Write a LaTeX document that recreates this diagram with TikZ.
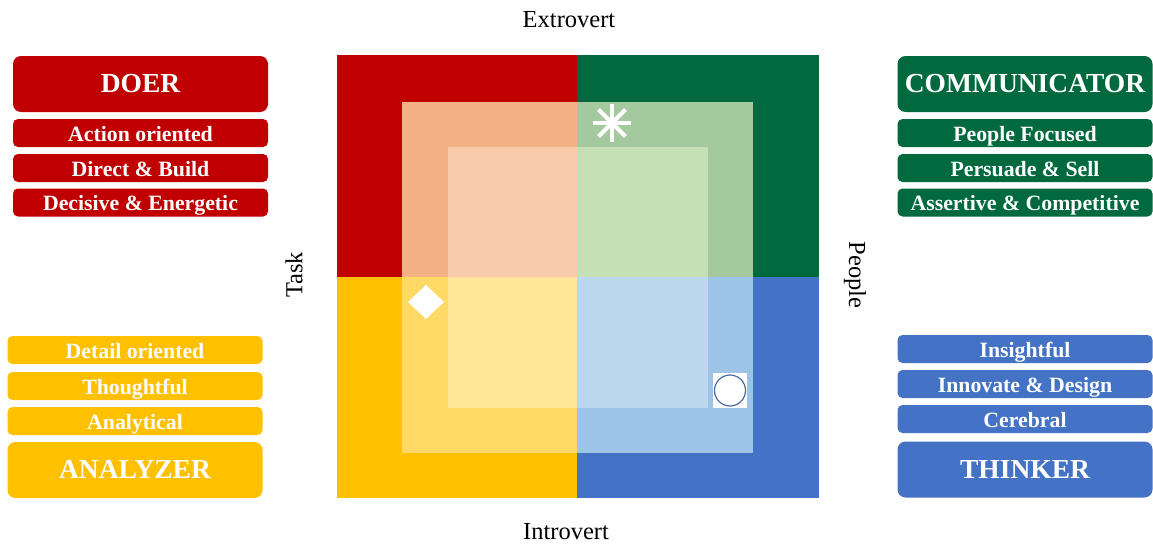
\documentclass[tikz,border=0pt]{standalone}
\usepackage{fontspec}
\setmainfont{Liberation Serif}

\definecolor{doerred}{HTML}{C00000}
\definecolor{commgreen}{HTML}{00693E}
\definecolor{analyellow}{HTML}{FFC000}
\definecolor{thinkblue}{HTML}{4472C4}
\definecolor{midred}{HTML}{F4B183}
\definecolor{midgreen}{HTML}{A5C99F}
\definecolor{midyellow}{HTML}{FFD966}
\definecolor{midblue}{HTML}{9DC3E6}
\definecolor{inred}{HTML}{F8CBAD}
\definecolor{ingreen}{HTML}{C5E0B4}
\definecolor{inyellow}{HTML}{FFE699}
\definecolor{inblue}{HTML}{BDD7EE}
\definecolor{ringblue}{HTML}{4A6AA5}

\tikzset{
  title/.style={rounded corners=8pt, text=white, inner sep=0pt,
    font=\bfseries\fontsize{27.5}{30}\selectfont,
    text height=19pt, text depth=2pt,
    minimum width=255pt, minimum height=56pt},
  trait/.style={rounded corners=5pt, text=white, inner sep=0pt,
    font=\bfseries\fontsize{21.8}{24}\selectfont,
    text height=17pt, text depth=1pt,
    minimum width=255pt, minimum height=28pt},
  axis/.style={font=\fontsize{24.5}{28}\selectfont, inner sep=0pt},
}

\begin{document}
\begin{tikzpicture}[x=1pt, y=-1pt]
    \useasboundingbox (0,0) rectangle (1153,546);

    % outer quadrants
    \fill[doerred]    (337,55)  rectangle (577,277);
    \fill[commgreen]  (577,55)  rectangle (819,277);
    \fill[analyellow] (337,277) rectangle (577,498);
    \fill[thinkblue]  (577,277) rectangle (819,498);

    % middle ring
    \fill[midred]    (402,102) rectangle (577,277);
    \fill[midgreen]  (577,102) rectangle (753,277);
    \fill[midyellow] (402,277) rectangle (577,453);
    \fill[midblue]   (577,277) rectangle (753,453);

    % inner square
    \fill[inred]    (448,147) rectangle (577,277);
    \fill[ingreen]  (577,147) rectangle (708,277);
    \fill[inyellow] (448,277) rectangle (577,408);
    \fill[inblue]   (577,277) rectangle (708,408);

    % markers
    \coordinate (star) at (612,123);
    \foreach \a in {0,45,...,315}
      \draw[white, line width=4pt] (star) -- ++(\a:19);
    \fill[white] (408,302) -- (426,285) -- (444,302) -- (426,319) -- cycle;
    \fill[white] (713,373) rectangle (747,408);
    \draw[ringblue, line width=1.2pt] (730,390.5) circle (15.5);

    % axis labels
    \node[axis] (extro) at (569,20) {Extrovert};
    \node[axis] (intro) at (566,532) {Introvert};
    \node[axis, rotate=90] (task) at (294,275) {Task};
    \node[axis, rotate=-90] (people) at (855,275) {People};

    % doer
    \node[title, fill=doerred] (doer) at (140.5,84) {DOER};
    \node[trait, fill=doerred] (d1) at (140.5,133) {Action oriented};
    \node[trait, fill=doerred] (d2) at (140.5,168) {Direct \& Build};
    \node[trait, fill=doerred] (d3) at (140.5,202.5) {Decisive \& Energetic};

    % communicator
    \node[title, fill=commgreen] (comm) at (1025,84) {COMMUNICATOR};
    \node[trait, fill=commgreen] (c1) at (1025,133) {People Focused};
    \node[trait, fill=commgreen] (c2) at (1025,168) {Persuade \& Sell};
    \node[trait, fill=commgreen] (c3) at (1025,202.5) {Assertive \& Competitive};

    % analyzer
    \node[trait, fill=analyellow] (a1) at (135,350) {Detail oriented};
    \node[trait, fill=analyellow] (a2) at (135,386) {Thoughtful};
    \node[trait, fill=analyellow] (a3) at (135,421) {Analytical};
    \node[title, fill=analyellow] (analy) at (135,470) {ANALYZER};

    % thinker
    \node[trait, fill=thinkblue] (t1) at (1025,349) {Insightful};
    \node[trait, fill=thinkblue] (t2) at (1025,384) {Innovate \& Design};
    \node[trait, fill=thinkblue] (t3) at (1025,419) {Cerebral};
    \node[title, fill=thinkblue] (think) at (1025,469.5) {THINKER};
\end{tikzpicture}
\end{document}
